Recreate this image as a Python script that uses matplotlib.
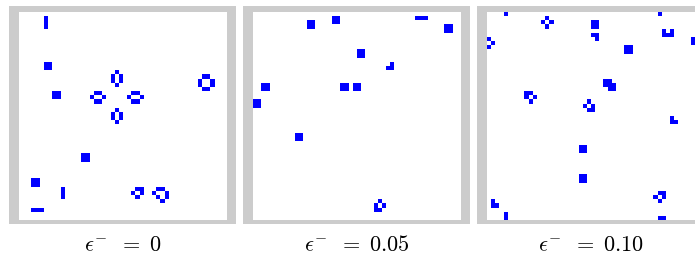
import numpy as np
import matplotlib.pyplot as plt
from matplotlib.colors import ListedColormap

plt.rcParams['mathtext.fontset'] = 'cm'

N = 50
labels = [r'$\epsilon^{-}\;\;=\;0$', r'$\epsilon^{-}\;\;=\;0.05$', r'$\epsilon^{-}\;\;=\;0.10$']

# live cells (row, col)
cells_0 = [(1, 6), (2, 6), (3, 6),
           (12, 6), (12, 7), (13, 6), (13, 7),
           (19, 8), (19, 9), (20, 8), (20, 9),
           (34, 15), (34, 16), (35, 15), (35, 16),
           (40, 3), (40, 4), (41, 3), (41, 4),
           (42, 10), (43, 10), (44, 10),
           (47, 3), (47, 4), (47, 5),
           (15, 44), (15, 45), (16, 43), (16, 46), (17, 43), (17, 46), (18, 44), (18, 45),
           (14, 23), (15, 22), (15, 24), (16, 22), (16, 24), (17, 23),
           (23, 23), (24, 22), (24, 24), (25, 22), (25, 24), (26, 23),
           (19, 18), (19, 19), (20, 17), (20, 20), (21, 18), (21, 19),
           (19, 27), (19, 28), (20, 26), (20, 29), (21, 27), (21, 28),
           (42, 28), (42, 29), (43, 27), (43, 29), (44, 28),
           (42, 33), (42, 34), (43, 32), (43, 35), (44, 33), (44, 35), (45, 34)]

cells_05 = [(2, 13), (2, 14), (3, 13), (3, 14),
            (1, 19), (1, 20), (2, 19), (2, 20),
            (1, 39), (1, 40), (1, 41),
            (3, 46), (3, 47), (4, 46), (4, 47),
            (9, 25), (9, 26), (10, 25), (10, 26),
            (12, 33), (13, 32), (13, 33),
            (17, 2), (17, 3), (18, 2), (18, 3),
            (17, 21), (17, 22), (18, 21), (18, 22),
            (17, 24), (17, 25), (18, 24), (18, 25),
            (21, 0), (21, 1), (22, 0), (22, 1),
            (29, 10), (29, 11), (30, 10), (30, 11),
            (45, 30), (46, 29), (46, 31), (47, 29), (47, 30)]

cells_10 = [(0, 4), (48, 4), (49, 4),
            (1, 14), (2, 13), (2, 15), (3, 14),
            (2, 25), (2, 26), (3, 25), (3, 26),
            (5, 25), (5, 26), (6, 26),
            (0, 41),
            (4, 42), (4, 44), (5, 42), (5, 43), (5, 44),
            (6, 49), (7, 49),
            (6, 0), (7, 1), (8, 0),
            (8, 33), (8, 34), (9, 33), (9, 34),
            (16, 28), (16, 29), (17, 28), (17, 29), (17, 30), (18, 29), (18, 30),
            (19, 9), (19, 10), (20, 9), (20, 11), (21, 10),
            (21, 24), (22, 23), (22, 25), (23, 24), (23, 25),
            (25, 44), (26, 44), (26, 45),
            (32, 22), (32, 23), (33, 22), (33, 23),
            (39, 22), (39, 23), (40, 22), (40, 23),
            (45, 1), (46, 1), (46, 2),
            (43, 41), (43, 42), (44, 40), (44, 42), (45, 41),
            (49, 41), (49, 42)]

panels = [cells_0, cells_05, cells_10]

W, H = 695, 259
fig = plt.figure(figsize=(W / 100, H / 100), dpi=100)
cmap = ListedColormap(['white', '#0000ff'])
cell = 208 / N

for i, cells in enumerate(panels):
    grid = np.zeros((N, N))
    for r, c in cells:
        grid[r, c] = 1
    left = 9 + 234 * i
    ax = fig.add_axes([left / W, (H - 224) / H, 227 / W, 218 / H])
    ax.set_facecolor('#cccccc')
    ax.imshow(grid, cmap=cmap, vmin=0, vmax=1, interpolation='nearest',
              extent=(0, N, N, 0))
    ax.set_xlim(-10 / cell, N + 9 / cell)
    ax.set_ylim(N + 4 / cell, -6 / cell)
    ax.set_aspect('auto')
    ax.set_xticks([])
    ax.set_yticks([])
    for s in ax.spines.values():
        s.set_visible(False)
    fig.text((left + 113.5) / W, 1 - 245 / H, labels[i], ha='center', va='center',
             fontsize=16)

plt.savefig('out.png', dpi=100)
plt.close()
